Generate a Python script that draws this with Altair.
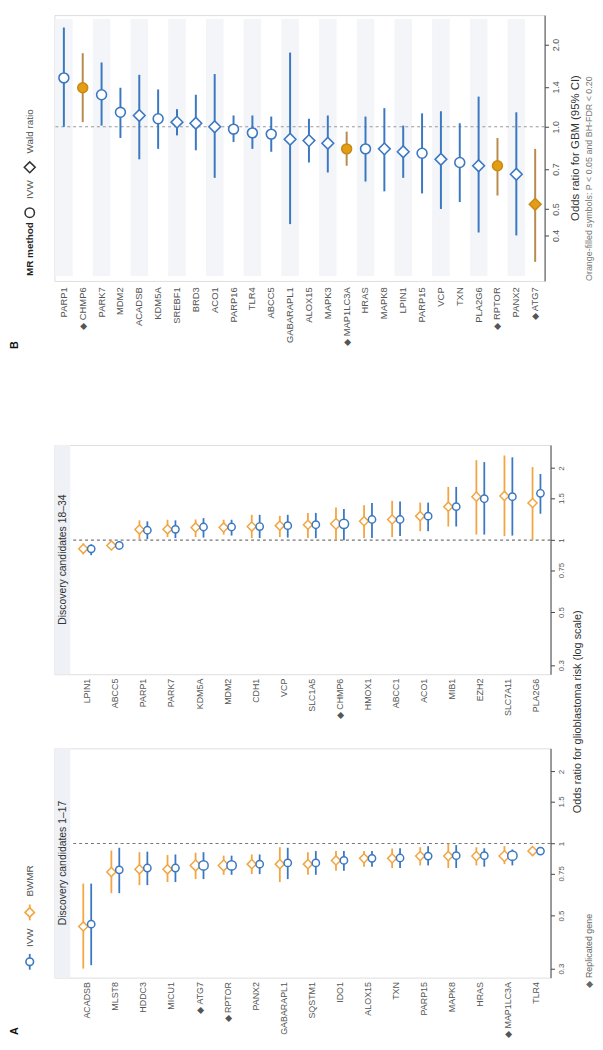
import altair as alt
import pandas as pd

# ---------------- panel B: single MR estimate per gene ----------------
b_genes = ["PARP1", "CHMP6", "PARK7", "MDM2", "ACADSB", "KDM5A", "SREBF1", "BRD3",
           "ACO1", "PARP16", "TLR4", "ABCC5", "GABARAPL1", "ALOX15", "MAPK3",
           "MAP1LC3A", "HRAS", "MAPK8", "LPIN1", "PARP15", "VCP", "TXN", "PLA2G6",
           "RPTOR", "PANX2", "ATG7"]
b_or = [1.51, 1.39, 1.31, 1.13, 1.10, 1.07, 1.04, 1.03, 1.00, 0.98, 0.95, 0.94, 0.90,
        0.89, 0.87, 0.83, 0.83, 0.83, 0.81, 0.80, 0.76, 0.74, 0.72, 0.72, 0.67, 0.52]
b_lo = [1.00, 1.04, 1.01, 0.91, 0.76, 0.83, 0.93, 0.82, 0.65, 0.88, 0.83, 0.81, 0.44,
        0.74, 0.68, 0.72, 0.63, 0.58, 0.65, 0.57, 0.50, 0.53, 0.41, 0.56, 0.40, 0.32]
b_hi = [2.31, 1.86, 1.72, 1.39, 1.55, 1.37, 1.16, 1.31, 1.56, 1.10, 1.10, 1.09, 1.87,
        1.07, 1.10, 0.96, 1.09, 1.17, 1.01, 1.12, 1.14, 1.03, 1.29, 0.91, 1.13, 0.83]
b_method = ["IVW", "IVW", "IVW", "IVW", "Wald ratio", "IVW", "Wald ratio", "Wald ratio",
            "Wald ratio", "IVW", "IVW", "IVW", "Wald ratio", "Wald ratio", "Wald ratio",
            "IVW", "IVW", "Wald ratio", "Wald ratio", "IVW", "Wald ratio", "IVW",
            "Wald ratio", "IVW", "Wald ratio", "Wald ratio"]
b_significant = ["CHMP6", "MAP1LC3A", "RPTOR", "ATG7"]

replicated = ["ATG7", "RPTOR", "MAP1LC3A", "CHMP6"]

# ---------------- panel A: IVW vs BWMR, discovery candidates ----------------
a1_genes = ["ACADSB", "MLST8", "HDDC3", "MICU1", "ATG7", "RPTOR", "PANX2", "GABARAPL1",
            "SQSTM1", "IDO1", "ALOX15", "TXN", "PARP15", "MAPK8", "HRAS", "MAP1LC3A", "TLR4"]
a1_bwmr_or = [0.45, 0.76, 0.78, 0.78, 0.81, 0.81, 0.82, 0.82, 0.82, 0.85, 0.867, 0.867,
              0.886, 0.886, 0.886, 0.886, 0.93]
a1_bwmr_lo = [0.30, 0.62, 0.67, 0.69, 0.71, 0.74, 0.745, 0.69, 0.74, 0.77, 0.80, 0.79,
              0.81, 0.79, 0.81, 0.82, 0.915]
a1_bwmr_hi = [0.68, 0.935, 0.92, 0.895, 0.915, 0.89, 0.90, 0.965, 0.92, 0.93, 0.93, 0.953,
              0.965, 1.0, 0.965, 0.975, 0.945]
a1_ivw_or = [0.46, 0.776, 0.79, 0.79, 0.81, 0.81, 0.82, 0.83, 0.83, 0.85, 0.867, 0.87,
             0.886, 0.89, 0.89, 0.89, 0.93]
a1_ivw_lo = [0.31, 0.62, 0.67, 0.69, 0.71, 0.74, 0.745, 0.71, 0.74, 0.77, 0.80, 0.79,
             0.81, 0.79, 0.80, 0.81, 0.915]
a1_ivw_hi = [0.68, 0.96, 0.925, 0.90, 0.92, 0.89, 0.90, 0.96, 0.93, 0.93, 0.93, 0.955,
             0.975, 0.985, 0.955, 0.945, 0.945]

a2_genes = ["LPIN1", "ABCC5", "PARP1", "PARK7", "KDM5A", "MDM2", "CDH1", "VCP", "SLC1A5",
            "CHMP6", "HMOX1", "ABCC1", "ACO1", "MIB1", "EZH2", "SLC7A11", "PLA2G6"]
a2_bwmr_or = [0.92, 0.95, 1.107, 1.11, 1.13, 1.13, 1.14, 1.15, 1.16, 1.17, 1.20, 1.22,
              1.26, 1.38, 1.52, 1.53, 1.43]
a2_bwmr_lo = [0.873, 0.935, 1.01, 1.03, 1.03, 1.055, 1.02, 1.03, 1.02, 1.0, 1.02, 1.03,
              1.09, 1.14, 1.055, 1.04, 1.0]
a2_bwmr_hi = [0.97, 0.96, 1.21, 1.217, 1.22, 1.217, 1.276, 1.264, 1.30, 1.37, 1.40, 1.46,
              1.435, 1.67, 2.16, 2.26, 2.02]
a2_ivw_or = [0.92, 0.95, 1.10, 1.11, 1.135, 1.135, 1.14, 1.15, 1.16, 1.17, 1.22, 1.22,
             1.26, 1.38, 1.49, 1.52, 1.57]
a2_ivw_lo = [0.865, 0.935, 1.01, 1.02, 1.025, 1.045, 1.02, 1.025, 1.02, 1.0, 1.02, 1.04,
             1.09, 1.14, 1.055, 1.045, 1.29]
a2_ivw_hi = [0.96, 0.96, 1.198, 1.21, 1.236, 1.217, 1.276, 1.276, 1.30, 1.35, 1.43, 1.45,
             1.435, 1.67, 2.12, 2.22, 1.89]

BLUE = "#3b78c2"
ORANGE = "#f2a541"
GOLD = "#e39e14"
GOLD_EDGE = "#c98a17"
BROWN = "#b98a4e"
GREY = "#555555"


def tag(g):
    return "◆ " + g if g in replicated else g


def note(text, x, y, **kw):
    # rotated annotation text, placed in pixels relative to the plot
    return alt.Chart(pd.DataFrame({"t": [text]})).mark_text(angle=270, **kw).encode(
        text="t:N", x=alt.value(x), y=alt.value(y))


def glyph(shape, x, y, size, stroke, line=None):
    d = pd.DataFrame({"s": [shape]})
    pt = alt.Chart(d).mark_point(shape=shape, size=size, filled=True, fill="white",
                                 stroke=stroke, strokeWidth=1.6, opacity=1).encode(
        x=alt.value(x), y=alt.value(y))
    if line is None:
        return pt
    rl = alt.Chart(d).mark_rule(color=line, strokeWidth=1.8).encode(
        x=alt.value(x), y=alt.value(y - 8), y2=alt.value(y + 8))
    return rl + pt


# ---------------- panel B ----------------
W_B, H_B = 496, 269
b = pd.DataFrame({"gene": b_genes, "or": b_or, "lo": b_lo, "hi": b_hi, "method": b_method})
b["label"] = [tag(g) for g in b_genes]
b["kind"] = ["sig" if g in b_significant else "plain" for g in b_genes]
b["stripe"] = [i % 2 == 0 for i in range(len(b_genes))]

xb = alt.X("label:N", sort=list(b["label"]), title=None,
           scale=alt.Scale(paddingInner=0, paddingOuter=0),
           axis=alt.Axis(labelAngle=270, domain=False, ticks=False, labelPadding=6,
                         labelFontSize=9.5, labelColor=GREY))
yb_scale = alt.Scale(type="log", domain=[0.2725, 2.565], nice=False)
yb_axis = alt.Axis(orient="right", values=[0.4, 0.5, 0.7, 1.0, 1.4, 2.0], format=".1f",
                   labelAngle=270, labelAlign="center", labelBaseline="top",
                   labelFontSize=9, labelColor=GREY, labelPadding=3, labelOverlap=False,
                   tickSize=4, tickColor="#444", domainColor="#444", grid=False)

base_b = alt.Chart(b).encode(x=xb)
stripes_b = base_b.transform_filter("datum.stripe").mark_bar(
    color="#f3f5f9", width=alt.RelativeBandSize(0.93)).encode(
    y=alt.value(4), y2=alt.value(H_B - 5))
ref_b = alt.Chart(pd.DataFrame({"r": [1.0]})).mark_rule(
    color="#999", strokeDash=[3, 3], strokeWidth=1.2).encode(y=alt.datum(1.0))
err_b = base_b.mark_rule(strokeWidth=2).encode(
    y=alt.Y("lo:Q", scale=yb_scale, axis=yb_axis, title=None),
    y2="hi:Q",
    color=alt.Color("kind:N", scale=alt.Scale(domain=["plain", "sig"], range=[BLUE, BROWN]),
                    legend=None))
pts_b = base_b.mark_point(filled=True, strokeWidth=1.6, opacity=1).encode(
    y=alt.Y("or:Q", scale=yb_scale, axis=yb_axis, title=None),
    shape=alt.Shape("method:N", scale=alt.Scale(domain=["IVW", "Wald ratio"],
                                                range=["circle", "diamond"]), legend=None),
    size=alt.Size("method:N", scale=alt.Scale(domain=["IVW", "Wald ratio"], range=[100, 140]),
                  legend=None),
    fill=alt.Fill("kind:N", scale=alt.Scale(domain=["plain", "sig"], range=["white", GOLD]),
                  legend=None),
    stroke=alt.Stroke("kind:N", scale=alt.Scale(domain=["plain", "sig"],
                                                range=[BLUE, GOLD_EDGE]), legend=None))

panel_b = alt.layer(
    stripes_b, ref_b, err_b, pts_b,
    note("MR method", -25, 264, align="left", fontSize=10, fontWeight="bold", color="#222"),
    glyph("circle", -25, 200, 90, "#333"),
    note("IVW", -25, 186, align="left", fontSize=10, color=GREY),
    glyph("diamond", -25, 154, 120, "#333"),
    note("Wald ratio", -25, 140, align="left", fontSize=10, color=GREY),
    note("Odds ratio for GBM (95% CI)", W_B + 32, H_B / 2, align="center",
         fontSize=11.5, color="#333"),
    note("Orange-filled symbols: P < 0.05 and BH-FDR < 0.20", W_B + 45, H_B,
         align="left", fontSize=9, color="#777"),
    note("B", -40, 334, align="center", fontSize=11, fontWeight="bold", color="#111"),
).properties(width=W_B, height=H_B)

# ---------------- panel A ----------------
W_A, H_A = 502, 232
ya_scale = alt.Scale(type="log", domain=[0.275, 2.5], nice=False)
ya_axis = alt.Axis(orient="right", values=[0.3, 0.5, 0.75, 1, 1.5, 2], format="~g",
                   labelAngle=270, labelAlign="center", labelBaseline="top",
                   labelFontSize=8, labelColor=GREY, labelPadding=3, labelOverlap=False,
                   tickSize=4, tickColor="#444", domainColor="#444", grid=False)
method_colors = alt.Scale(domain=["BWMR", "IVW"], range=[ORANGE, BLUE])


def a_panel(genes, bw_or, bw_lo, bw_hi, iv_or, iv_lo, iv_hi, strip_title, extra=()):
    n = len(genes)
    df = pd.DataFrame({
        "gene": genes + genes,
        "method": ["BWMR"] * n + ["IVW"] * n,
        "or": bw_or + iv_or,
        "lo": bw_lo + iv_lo,
        "hi": bw_hi + iv_hi,
    })
    df["label"] = [tag(g) for g in df["gene"]]
    df["rep"] = df["gene"].isin(replicated)

    base = alt.Chart(df).encode(
        x=alt.X("label:N", sort=[tag(g) for g in genes], title=None,
                scale=alt.Scale(paddingInner=0, paddingOuter=0.334, align=1),
                axis=alt.Axis(labelAngle=270, domain=False, ticks=False, labelPadding=4,
                              labelFontSize=9, labelColor=GREY)),
        xOffset=alt.XOffset("method:N", scale=alt.Scale(domain=["BWMR", "IVW"],
                                                        paddingInner=0, paddingOuter=0.775)),
    )
    strip = alt.Chart(pd.DataFrame({"t": [strip_title]})).mark_rect(color="#eef1f5").encode(
        x=alt.value(1), x2=alt.value(16), y=alt.value(0), y2=alt.value(H_A))
    strip_txt = note(strip_title, 8.5, H_A / 2, align="center", fontSize=10.5, color="#333")
    ref = alt.Chart(pd.DataFrame({"r": [1.0]})).mark_rule(
        color="#777", strokeDash=[3, 3], strokeWidth=1.1).encode(
        y=alt.datum(1.0), x=alt.value(19), x2=alt.value(W_A))
    err = base.mark_rule(strokeWidth=1.8).encode(
        y=alt.Y("lo:Q", scale=ya_scale, axis=ya_axis, title=None),
        y2="hi:Q",
        color=alt.Color("method:N", scale=method_colors, legend=None))
    diam = base.transform_filter("datum.method == 'BWMR'").mark_point(
        shape="diamond", filled=True, fill="white", strokeWidth=1.5, opacity=1).encode(
        y=alt.Y("or:Q", scale=ya_scale, axis=ya_axis, title=None),
        stroke=alt.Stroke("method:N", scale=method_colors, legend=None),
        size=alt.when(alt.datum.rep).then(alt.value(120)).otherwise(alt.value(85)))
    circ = base.transform_filter("datum.method == 'IVW'").mark_point(
        shape="circle", filled=True, fill="white", strokeWidth=1.5, opacity=1).encode(
        y=alt.Y("or:Q", scale=ya_scale, axis=ya_axis, title=None),
        stroke=alt.Stroke("method:N", scale=method_colors, legend=None),
        size=alt.when(alt.datum.rep).then(alt.value(90)).otherwise(alt.value(55)))
    return alt.layer(strip, strip_txt, ref, err, diam, circ, *extra).properties(
        width=W_A, height=H_A)


a2 = a_panel(a2_genes, a2_bwmr_or, a2_bwmr_lo, a2_bwmr_hi, a2_ivw_or, a2_ivw_lo, a2_ivw_hi,
             "Discovery candidates 18–34")
a1 = a_panel(a1_genes, a1_bwmr_or, a1_bwmr_lo, a1_bwmr_hi, a1_ivw_or, a1_ivw_lo, a1_ivw_hi,
             "Discovery candidates 1–17",
             extra=[
                 glyph("circle", -25, 216, 60, BLUE, line=BLUE),
                 note("IVW", -25, 201, align="left", fontSize=10, color=GREY),
                 glyph("diamond", -25, 166, 90, ORANGE, line=ORANGE),
                 note("BWMR", -25, 150, align="left", fontSize=10, color=GREY),
                 note("Odds ratio for glioblastoma risk (log scale)", W_A + 28, -37,
                      align="center", fontSize=11, color="#333"),
                 note("◆ Replicated gene", W_A + 39, H_A + 10, align="left",
                      fontSize=9, color="#666"),
                 note("A", -40, 286, align="center", fontSize=11, fontWeight="bold",
                      color="#111"),
             ])

panel_a = alt.vconcat(a2, a1, spacing=75, bounds="flush")

chart = alt.vconcat(panel_b, panel_a, spacing=166, bounds="flush").resolve_scale(
    color="independent", fill="independent", stroke="independent",
    shape="independent", size="independent"
).properties(
    padding=0
).configure_view(stroke=None).configure(font="Liberation Sans")

chart.save("out.html", embed_options={"renderer": "svg", "actions": False})
